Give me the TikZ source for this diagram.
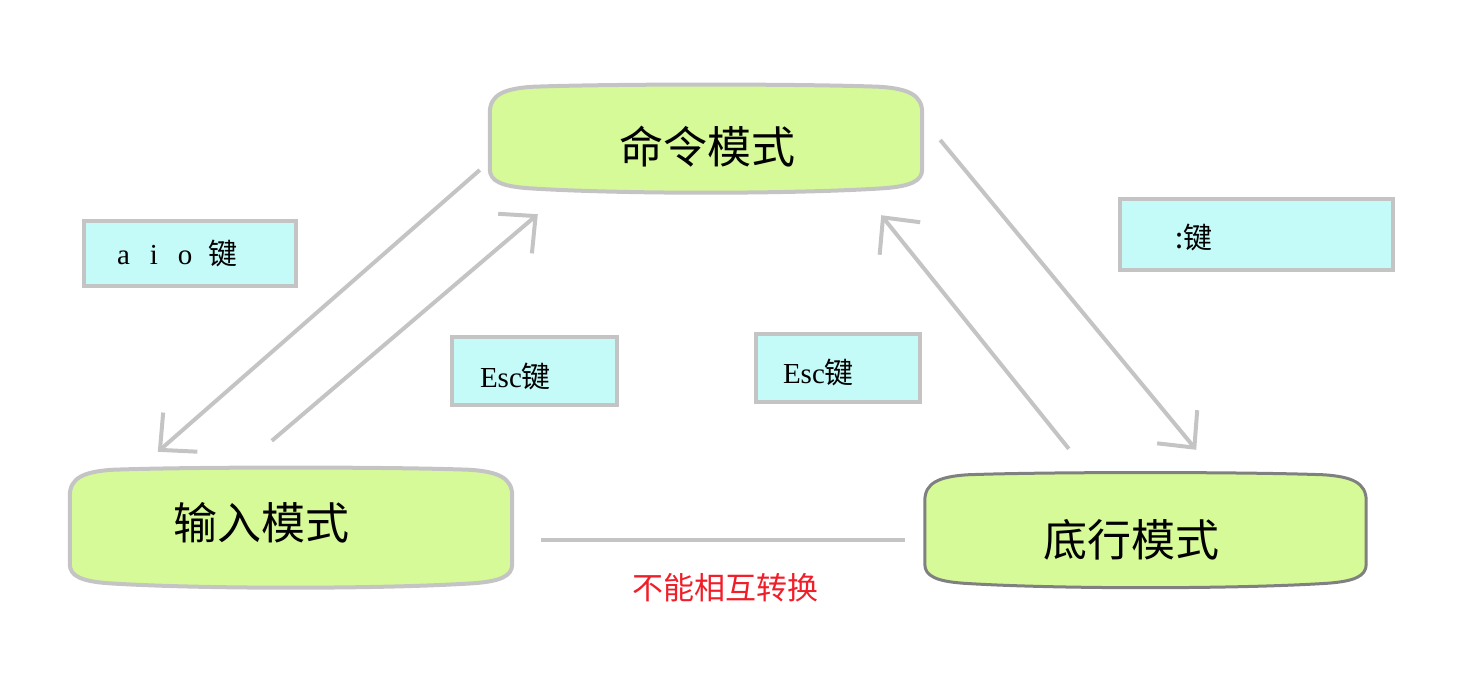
\documentclass[tikz,border=0pt]{standalone}
\usepackage{fontspec}
\setmainfont{Liberation Serif}
\newfontfamily\cjk{Noto Sans CJK SC}
\usetikzlibrary{arrows.meta}
\definecolor{modegreen}{RGB}{214,250,152}
\definecolor{keycyan}{RGB}{196,250,248}
\definecolor{edgegray}{RGB}{196,196,196}
\definecolor{darkedge}{RGB}{128,128,128}
\definecolor{warnred}{RGB}{240,30,40}
% outline of a mode box, drawn round the node #1
\newcommand{\modeshape}[2]{%
  \draw[fill=modegreen,#2]
    ([shift={(0,28)}]#1.north west)
    .. controls ([shift={(0,10)}]#1.north west) and ([shift={(14,4)}]#1.north west)
    .. ([shift={(42,2)}]#1.north west)
    .. controls ([shift={(120,-1)}]#1.north west) and ([shift={(-120,-1)}]#1.north east)
    .. ([shift={(-42,2)}]#1.north east)
    .. controls ([shift={(-14,4)}]#1.north east) and ([shift={(0,10)}]#1.north east)
    .. ([shift={(0,28)}]#1.north east)
    -- ([shift={(0,-24)}]#1.south east)
    .. controls ([shift={(0,-12)}]#1.south east) and ([shift={(-12,-7)}]#1.south east)
    .. ([shift={(-38,-5)}]#1.south east)
    .. controls ([shift={(-130,1)}]#1.south east) and ([shift={(130,1)}]#1.south west)
    .. ([shift={(38,-5)}]#1.south west)
    .. controls ([shift={(12,-7)}]#1.south west) and ([shift={(0,-12)}]#1.south west)
    .. ([shift={(0,-24)}]#1.south west) -- cycle;}

\begin{document}
\begin{tikzpicture}[x=1pt,y=-1pt,
    modebox/.style={inner sep=0pt},
    modetext/.style={font=\cjk\fontsize{44}{50}\selectfont},
    keybox/.style={draw=edgegray,fill=keycyan,line width=4pt,align=left,
      font=\fontsize{29}{34}\selectfont},
    move/.style={draw=edgegray,line width=4pt,-{Straight Barb[length=27pt,width=52pt]}}]
  \useasboundingbox (0,0) rectangle (1467,690);

  % the three modes
  \node[modebox,minimum width=432pt,minimum height=108pt] (cmd) at (706,139) {};
  \modeshape{cmd}{draw=edgegray,line width=4pt}
  \node[modetext] at (707,147) {命令模式};
  \node[modebox,minimum width=442pt,minimum height=120pt] (input) at (291,528) {};
  \modeshape{input}{draw=edgegray,line width=4pt}
  \node[modetext] at (261,523) {输入模式};
  \node[modebox,minimum width=441pt,minimum height=115pt] (bot) at (1145.5,530.5) {};
  \modeshape{bot}{draw=darkedge,line width=3pt}
  \node[modetext] at (1131,540) {底行模式};

  % keys
  \node[keybox,text width=146pt,inner xsep=33pt,minimum height=65pt] (aio) at (190,253.5)
    {a\hspace{20pt}i\hspace{20pt}o\hspace{16pt}{\cjk 键}};
  \node[keybox,text width=109pt,inner xsep=28pt,minimum height=68pt,
    text height=32pt,text depth=0pt] (esca) at (534.5,371) {Esc{\cjk 键}};
  \node[keybox,text width=110pt,inner xsep=27pt,minimum height=68pt,
    text height=31pt,text depth=0pt] (escb) at (838,368) {Esc{\cjk 键}};
  \node[keybox,text width=163pt,inner xsep=55pt,minimum height=71pt,
    text height=27pt,text depth=0pt] (colon) at (1256.5,234.5) {\cjk :键};

  % transitions
  \draw[move] ([shift={(-10,31)}]cmd.west) -- ([shift={(88,-16)}]input.north west);
  \draw[move] ([shift={(202,-27)}]input.north west) -- ([shift={(48,21)}]cmd.south west);
  \draw[move] ([shift={(144,-24)}]bot.north west) -- ([shift={(-41,22)}]cmd.south east);
  \draw[move] ([shift={(18,1)}]cmd.east) -- ([shift={(-170,-23)}]bot.north east);
  \draw[draw=edgegray,line width=4pt] ([shift={(29,12)}]input.east) -- ([shift={(-20,9.5)}]bot.west);
  \node[font=\cjk\fontsize{31}{36}\selectfont,text=warnred] (note) at (725,588) {不能相互转换};
\end{tikzpicture}
\end{document}
